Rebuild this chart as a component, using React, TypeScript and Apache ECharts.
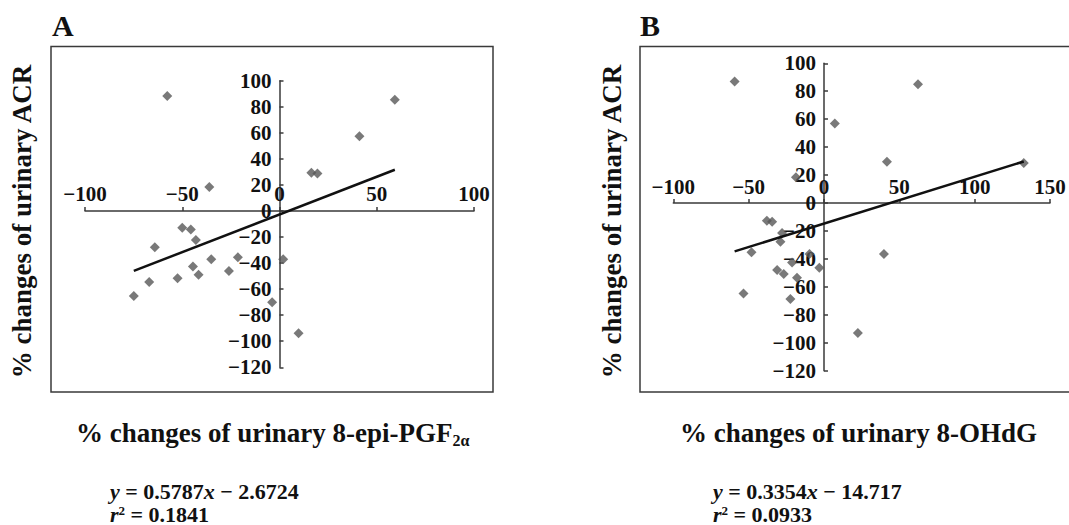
import React, { useEffect, useRef } from "react";
import * as echarts from "echarts";

// Panel A: % changes of urinary 8-epi-PGF2α vs % changes of urinary ACR
const aX = [-57.7, 59.3, 41.1, 16.4, 19.5, -36.1, -50.0, -45.6, -43.0, -64.1, -35.1, -21.4, 1.9, -44.5, -41.6, -26.0, -52.4, -67.0, -74.9, -3.8, 9.8];
const aY = [88.3, 85.4, 57.3, 29.4, 28.7, 18.4, -12.8, -14.3, -22.3, -27.9, -37.1, -35.6, -37.1, -42.7, -48.9, -46.0, -51.7, -54.5, -65.2, -70.1, -93.9];
// Panel B: % changes of urinary 8-OHdG vs % changes of urinary ACR
const bX = [-59.3, 62.4, 7.2, 41.8, 132.6, -18.6, -37.9, -34.4, -27.8, -28.9, -48.1, -9.6, 39.8, -21.2, -3.1, -31.1, -26.7, -17.9, -53.4, -22.3, 22.5];
const bY = [86.9, 85.0, 57.0, 29.6, 28.6, 18.4, -12.6, -13.4, -21.5, -27.7, -35.3, -36.5, -36.5, -42.5, -46.3, -48.0, -50.8, -53.5, -64.7, -68.7, -93.1];

// Regression: [slope, intercept, r2] as printed
const fitA = [0.5787, -2.6724, 0.1841];
const fitB = [0.3354, -14.717, 0.0933];

const xRangeA = [-100, 100];
const xRangeB = [-100, 150];
const yRange = [-120, 100];

const FONT = "Liberation Serif";
const minus = (v: number) => String(v).replace("-", "\u2212");

function fmtNum(v: number) {
  return String(Math.abs(v));
}

const gridA = { left: 85, top: 80.7, width: 389, height: 286.6 };
const gridB = { left: 673.3, top: 63.3, width: 376.7, height: 307.4 };

export default function App() {
  const ref = useRef<HTMLDivElement>(null);
  useEffect(() => {
    document.body.style.margin = "0";
    const chart = echarts.init(ref.current!, null, { renderer: "svg" });

    const axisCol = "#3a3a3a";
    const mkX = (idx: number, range: number[], g: any) => ({
      type: "value",
      gridIndex: idx,
      min: range[0],
      max: range[1],
      interval: 50,
      // move axis from bottom of grid up to y = 0
      offset: -((0 - yRange[0]) / (yRange[1] - yRange[0])) * g.height,
      splitLine: { show: false },
      axisLine: { show: true, onZero: false, lineStyle: { color: axisCol, width: 1.5 } },
      axisTick: { show: true, inside: true, length: 4, lineStyle: { color: axisCol, width: 1.5 } },
      axisLabel: {
        inside: true,
        margin: 6,
        color: "#111",
        fontFamily: FONT,
        fontWeight: "bold",
        fontSize: 21,
        formatter: minus,
      },
    });
    const mkY = (idx: number, range: number[], g: any) => ({
      type: "value",
      gridIndex: idx,
      min: yRange[0],
      max: yRange[1],
      interval: 20,
      // move axis from left of grid right to x = 0
      offset: -((0 - range[0]) / (range[1] - range[0])) * g.width,
      splitLine: { show: false },
      axisLine: { show: true, onZero: false, lineStyle: { color: axisCol, width: 1.5 } },
      axisTick: { show: true, inside: true, length: 4, lineStyle: { color: axisCol, width: 1.5 } },
      axisLabel: {
        margin: 8,
        color: "#111",
        fontFamily: FONT,
        fontWeight: "bold",
        fontSize: 21,
        padding: [11, 0, 0, 0],
        formatter: minus,
      },
    });

    const pts = (xs: number[], ys: number[]) => xs.map((x, i) => [x, ys[i]]);
    const fitLine = (xs: number[], f: number[]) => {
      const lo = Math.min(...xs);
      const hi = Math.max(...xs);
      return [
        [lo, f[0] * lo + f[1]],
        [hi, f[0] * hi + f[1]],
      ];
    };

    const eqRich = {
      i: { fontFamily: FONT, fontWeight: "bold", fontStyle: "italic", fontSize: 22, fill: "#111", lineHeight: 20 },
      n: { fontFamily: FONT, fontWeight: "bold", fontSize: 22, fill: "#111", lineHeight: 20 },
      sup: { fontFamily: FONT, fontWeight: "bold", fontSize: 13, fill: "#111", verticalAlign: "top", lineHeight: 13 },
    };
    const eqText = (f: number[]) =>
      `{i|y}{n| = ${f[0]}}{i|x}{n| ${f[1] < 0 ? "\u2212" : "+"} ${fmtNum(f[1])}}`;
    const r2Text = (f: number[]) => `{i|r}{sup|2}{n| = ${f[2]}}`;

    const titleRich = {
      a: { fontFamily: FONT, fontWeight: "bold", fontSize: 27, fill: "#111", lineHeight: 30 },
      s: { fontFamily: FONT, fontWeight: "bold", fontSize: 16, fill: "#111", verticalAlign: "bottom" },
    };

    const txt = (s: any) => ({ fontFamily: FONT, fontWeight: "bold", fill: "#111", ...s });

    const graphic: any[] = [
      { type: "rect", shape: { x: 51, y: 46.5, width: 442, height: 345.5 }, style: { fill: "none", stroke: axisCol, lineWidth: 1.5 }, z: -1 },
      { type: "rect", shape: { x: 640, y: 46.5, width: 440, height: 345.5 }, style: { fill: "none", stroke: axisCol, lineWidth: 1.5 }, z: -1 },
      { type: "text", x: 52, y: 25, style: txt({ text: "A", fontSize: 30, verticalAlign: "middle" }) },
      { type: "text", x: 640, y: 25, style: txt({ text: "B", fontSize: 30, verticalAlign: "middle" }) },
      { type: "text", x: 22, y: 221.5, rotation: Math.PI / 2, style: txt({ text: "% changes of urinary ACR", fontSize: 27, align: "center", verticalAlign: "middle" }) },
      { type: "text", x: 611.5, y: 221.5, rotation: Math.PI / 2, style: txt({ text: "% changes of urinary ACR", fontSize: 27, align: "center", verticalAlign: "middle" }) },
      { type: "text", x: 76, y: 433, style: { text: "{a|% changes of urinary 8-epi-PGF}{s|2\u03b1}", rich: titleRich, align: "left", verticalAlign: "middle" } },
      { type: "text", x: 680, y: 433, style: { text: "{a|% changes of urinary 8-OHdG}", rich: titleRich, align: "left", verticalAlign: "middle" } },
      { type: "text", x: 110, y: 491, style: { text: eqText(fitA), rich: eqRich, align: "left", verticalAlign: "middle" } },
      { type: "text", x: 110, y: 514, style: { text: r2Text(fitA), rich: eqRich, align: "left", verticalAlign: "middle" } },
      { type: "text", x: 713, y: 491, style: { text: eqText(fitB), rich: eqRich, align: "left", verticalAlign: "middle" } },
      { type: "text", x: 713, y: 514, style: { text: r2Text(fitB), rich: eqRich, align: "left", verticalAlign: "middle" } },
    ];

    chart.setOption({
      animation: false,
      backgroundColor: "#fff",
      textStyle: { fontFamily: FONT },
      grid: [gridA, gridB],
      xAxis: [mkX(0, xRangeA, gridA), mkX(1, xRangeB, gridB)],
      yAxis: [mkY(0, xRangeA, gridA), mkY(1, xRangeB, gridB)],
      series: [
        { type: "scatter", xAxisIndex: 0, yAxisIndex: 0, data: pts(aX, aY), symbol: "diamond", symbolSize: 10, itemStyle: { color: "#575757" } },
        { type: "line", xAxisIndex: 0, yAxisIndex: 0, data: fitLine(aX, fitA), symbol: "none", lineStyle: { color: "#111", width: 2.5 }, z: 3 },
        { type: "scatter", xAxisIndex: 1, yAxisIndex: 1, data: pts(bX, bY), symbol: "diamond", symbolSize: 10, itemStyle: { color: "#575757" } },
        { type: "line", xAxisIndex: 1, yAxisIndex: 1, data: fitLine(bX, fitB), symbol: "none", lineStyle: { color: "#111", width: 2.5 }, z: 3 },
      ],
      graphic,
    });
    return () => chart.dispose();
  }, []);
  return <div ref={ref} style={{ position: "absolute", left: 0, top: 0, width: 1069, height: 525 }} />;
}
